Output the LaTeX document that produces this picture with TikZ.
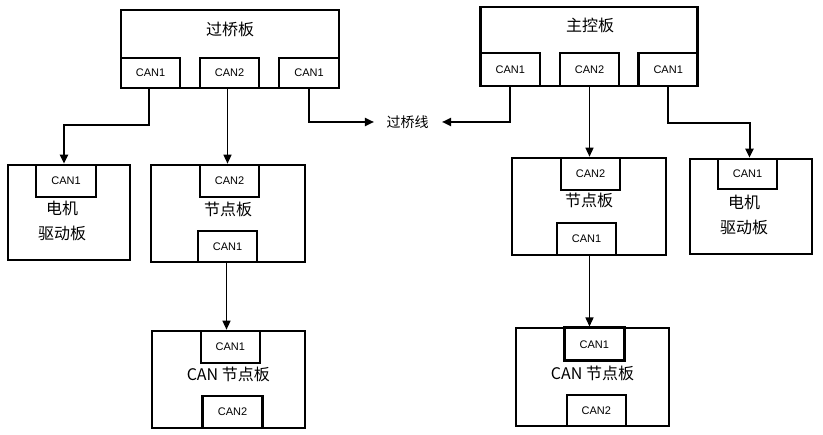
\documentclass[tikz,border=0pt]{standalone}
\usepackage{fontspec}
\setmainfont{Liberation Sans}
\newfontfamily\cjk{Noto Sans CJK SC}
\usetikzlibrary{arrows.meta}

\begin{document}
\begin{tikzpicture}[x=1pt,y=-1pt,
  board/.style={draw,line width=2.6pt,inner sep=0pt},
  port/.style={draw,line width=2.6pt,inner sep=0pt,minimum width=59pt,minimum height=32pt,font=\fontsize{11}{13}\selectfont},
  title/.style={font=\cjk\fontsize{16}{25}\selectfont,align=center},
  link/.style={line width=1.4pt,-{Triangle[length=9pt,width=8pt]}},
  elbow/.style={link,line width=2pt}]
  \useasboundingbox (0,0) rectangle (823,435);

  \node[board,minimum width=218pt,minimum height=78pt] (qqb) at (230,49) {};
  \node[title] (qqbname) at (230,29) {过桥板};
  \node[port,minimum height=30pt] (qqbA) at (150.5,73) {CAN1};
  \node[port,minimum height=30pt] (qqbB) at (229.5,73) {CAN2};
  \node[port,minimum width=60pt,minimum height=30pt] (qqbC) at (309,73) {CAN1};

  \node[board,minimum width=122pt,minimum height=95pt] (djL) at (69,212.5) {};
  \node[port,minimum width=60pt] (djLcan) at (66,181) {CAN1};
  \node[title] (djLname) at (62,221) {电机\\驱动板};

  \node[board,minimum width=154pt,minimum height=97pt] (jdL) at (228,213.5) {};
  \node[port] (jdLcan2) at (229.5,181) {CAN2};
  \node[title] (jdLname) at (228,209) {节点板};
  \node[port,minimum height=31pt] (jdLcan1) at (227.5,246.5) {CAN1};

  \node[board,minimum width=153pt,minimum height=97pt] (cjdL) at (228.3,379.5) {};
  \node[port] (cjdLcan1) at (230.3,347) {CAN1};
  \node[title] (cjdLname) at (228.3,374) {CAN \cjk 节点板};
  \node[port,minimum width=60pt] (cjdLcan2) at (232.5,412) {CAN2};

  \node[font=\cjk\fontsize{14}{16}\selectfont] (qql) at (407.5,122) {过桥线};

  \node[board,minimum width=217pt,minimum height=79pt] (zkb) at (589,46.5) {};
  \node[title] (zkbname) at (590,25) {主控板};
  \node[port,minimum height=33pt] (zkbA) at (510.3,69.7) {CAN1};
  \node[port,minimum height=33pt] (zkbB) at (589.5,69.7) {CAN2};
  \node[port,minimum height=33pt] (zkbC) at (668.2,69.7) {CAN1};

  \node[board,minimum width=154pt,minimum height=97pt] (jdR) at (588.8,206.5) {};
  \node[port] (jdRcan2) at (590.5,174) {CAN2};
  \node[title] (jdRname) at (589,200) {节点板};
  \node[port] (jdRcan1) at (586.5,239) {CAN1};

  \node[board,minimum width=122pt,minimum height=95pt] (djR) at (751,206.5) {};
  \node[port,minimum height=30pt] (djRcan) at (747.5,174) {CAN1};
  \node[title] (djRname) at (744,214.7) {电机\\驱动板};

  \node[board,minimum width=153pt,minimum height=98pt] (cjdR) at (592.3,377) {};
  \node[port,minimum width=60pt,minimum height=33pt] (cjdRcan1) at (594.3,344.3) {CAN1};
  \node[title] (cjdRname) at (592.5,373) {CAN \cjk 节点板};
  \node[port,minimum height=31pt] (cjdRcan2) at (596.3,410.5) {CAN2};

  \draw[elbow] ([xshift=-2pt]qqbA.south) -- ++(0,36) -| ([xshift=-2pt]djLcan.north);
  \draw[link] ([xshift=-2pt]qqbB.south) -- ([xshift=-2pt]qqbB.south |- jdLcan2.north);
  \draw[elbow,shorten >=9pt] (qqbC.south) |- (qql.west);
  \draw[link] ([xshift=-1pt]jdLcan1.south) -- ([xshift=-1pt]jdLcan1.south |- cjdLcan1.north);

  \draw[elbow,shorten >=10pt] (zkbA.south) |- (qql.east);
  \draw[link] (zkbB.south) -- (zkbB.south |- jdRcan2.north);
  \draw[elbow] (zkbC.south) -- ++(0,36) -| ([xshift=2pt]djRcan.north);
  \draw[link] ([xshift=3pt]jdRcan1.south) -- ([xshift=3pt]jdRcan1.south |- cjdRcan1.north);
\end{tikzpicture}
\end{document}
